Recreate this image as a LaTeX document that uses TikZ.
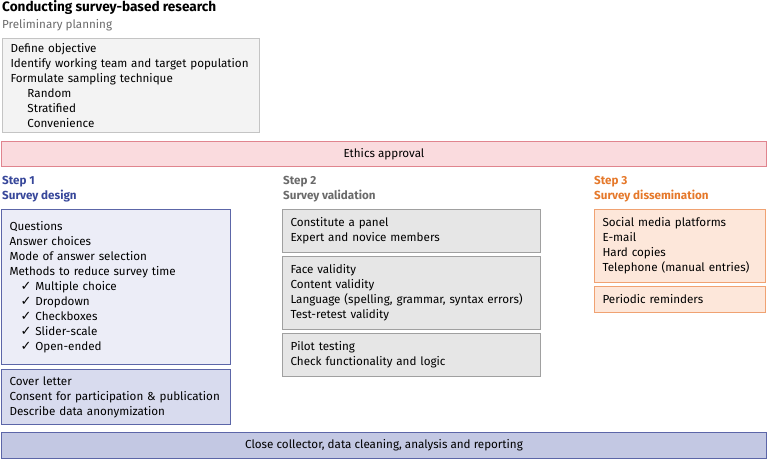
\documentclass[tikz,border=0pt]{standalone}
\usepackage{fontspec}
\setmainfont{Fira Sans}
\newfontfamily\symfont{DejaVu Sans}
\usetikzlibrary{positioning}

\definecolor{planfill}{HTML}{F3F3F3}
\definecolor{planline}{HTML}{C4C4C4}
\definecolor{ethfill}{HTML}{FADBDE}
\definecolor{ethline}{HTML}{E0848E}
\definecolor{bluefill}{HTML}{ECEDF7}
\definecolor{bluefillb}{HTML}{D8DBEE}
\definecolor{bluebar}{HTML}{C3C8E3}
\definecolor{blueline}{HTML}{5C66A8}
\definecolor{bluetext}{HTML}{37479A}
\definecolor{grayfill}{HTML}{E6E6E6}
\definecolor{grayline}{HTML}{A0A0A0}
\definecolor{graytext}{HTML}{6A6A6A}
\definecolor{orfill}{HTML}{FDE7DA}
\definecolor{orline}{HTML}{F0A272}
\definecolor{ortext}{HTML}{E5782A}

\newcommand{\chkmark}{\hspace*{11pt}{\symfont\fontsize{13}{15}\selectfont\char"2713}\hspace{4pt}}
\newcommand{\sampind}{\hspace*{17pt}}

\begin{document}
\begin{tikzpicture}[x=1pt,y=-1pt,
		every node/.style={font=\fontsize{11.65}{15}\selectfont},
		box/.style={draw,line width=1pt,anchor=north west,align=left,inner xsep=8pt,inner ysep=0pt},
		bar/.style={draw,line width=1pt,anchor=north west,align=center,inner sep=0pt},
		steplabel/.style={anchor=west,align=left,inner sep=0pt,font=\fontsize{11.65}{15}\selectfont\bfseries}]
	\useasboundingbox (0,0) rectangle (767,460);
	% preliminary planning
	\node[anchor=west,inner sep=0pt,font=\fontsize{13.6}{15}\selectfont\bfseries] (title) at (2,7) {Conducting survey-based research};
	\node[anchor=west,inner sep=0pt,text=graytext] (prelim) at (2,25) {Preliminary planning};
	\node[box,fill=planfill,draw=planline,text width=241pt,minimum height=94pt] (plan) at (2,38) {Define objective\\Identify working team and target population\\Formulate sampling technique\\\sampind Random\\\sampind Stratified\\\sampind Convenience};
	\node[bar,fill=ethfill,draw=ethline,minimum width=765pt,minimum height=25pt] (ethics) at (1,141) {Ethics approval};
	% step 1
	\node[steplabel,text=bluetext] (step1) at (2,189.5) {Step 1\\Survey design};
	\node[box,fill=bluefill,draw=blueline,text width=213pt,minimum height=155pt] (design) at (1,209) {Questions\\Answer choices\\Mode of answer selection\\Methods to reduce survey time\\\chkmark Multiple choice\\\chkmark Dropdown\\\chkmark Checkboxes\\\chkmark Slider-scale\\\chkmark Open-ended};
	\node[box,fill=bluefillb,draw=blueline,text width=213pt,minimum height=55pt] (consent) at (1,369) {Cover letter\\Consent for participation \& publication\\Describe data anonymization};
	% step 2
	\node[steplabel,text=graytext] (step2) at (283,189.5) {Step 2\\Survey validation};
	\node[box,fill=grayfill,draw=grayline,text width=242pt,minimum height=43pt] (panel) at (282,209) {Constitute a panel\\Expert and novice members};
	\node[box,fill=grayfill,draw=grayline,text width=242pt,minimum height=73pt] (validity) at (282,256) {Face validity\\Content validity\\Language (spelling, grammar, syntax errors)\\Test-retest validity};
	\node[box,fill=grayfill,draw=grayline,text width=242pt,minimum height=43pt] (pilot) at (282,333) {Pilot testing\\Check functionality and logic};
	% step 3
	\node[steplabel,text=ortext] (step3) at (594,189.5) {Step 3\\Survey dissemination};
	\node[box,fill=orfill,draw=orline,text width=155pt,minimum height=73pt] (channels) at (594,209) {Social media platforms\\E-mail\\Hard copies\\Telephone (manual entries)};
	\node[box,fill=orfill,draw=orline,text width=155pt,minimum height=26pt] (remind) at (594,286) {Periodic reminders};
	% closing
	\node[bar,fill=bluebar,draw=blueline,minimum width=765pt,minimum height=26pt] (close) at (1,432) {Close collector, data cleaning, analysis and reporting};
\end{tikzpicture}
\end{document}
